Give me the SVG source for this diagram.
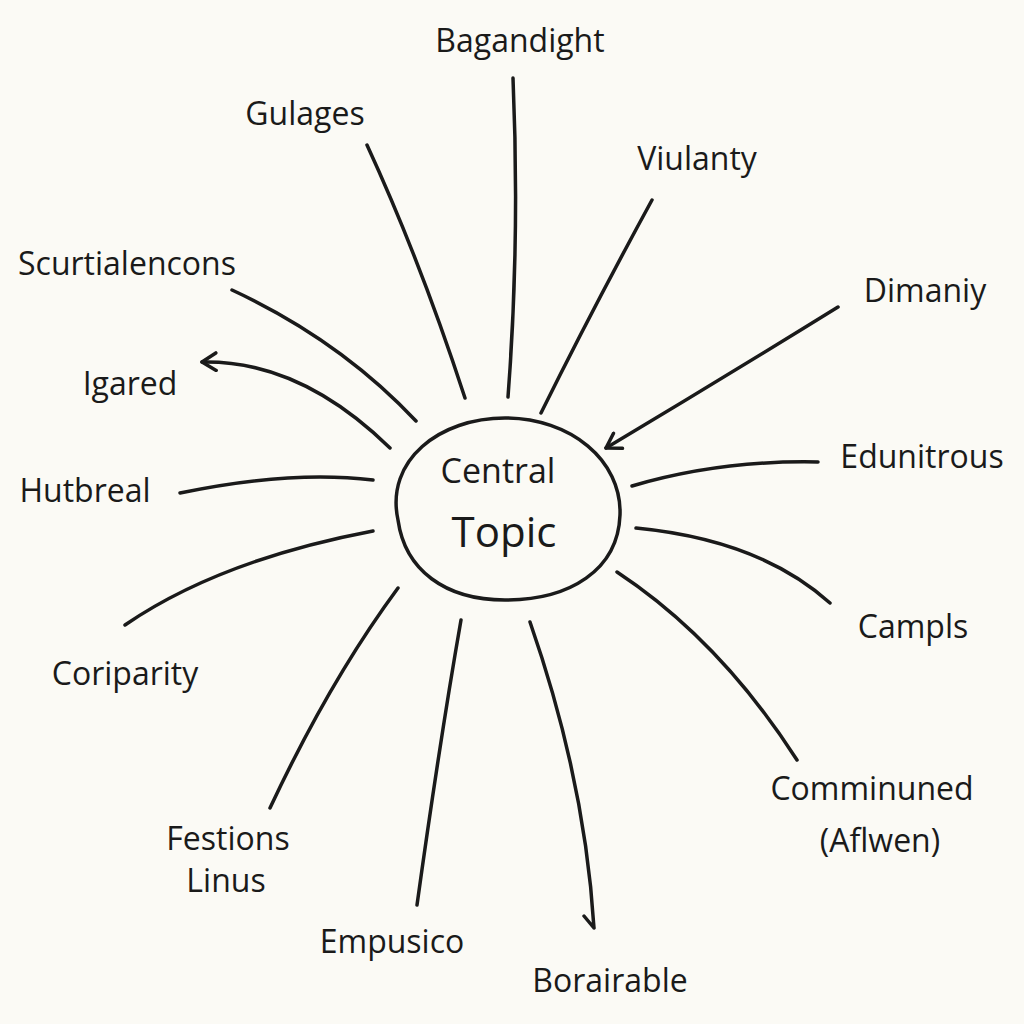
<svg xmlns="http://www.w3.org/2000/svg" width="1024" height="1024" viewBox="0 0 1024 1024">
<defs>
<style>
.lbl{font-family:"Open Sans","DejaVu Sans",sans-serif;font-size:32px;fill:#1a1a1a;text-anchor:middle}
.ln{fill:none;stroke:#1a1a1a;stroke-width:3.5;stroke-linecap:round;stroke-linejoin:round}
</style>
<marker id="arr" viewBox="0 0 12 12" refX="10" refY="6" markerWidth="6" markerHeight="6" orient="auto" markerUnits="strokeWidth">
<path d="M2,1 L10,6 L2,11" fill="none" stroke="#1a1a1a" stroke-width="2" stroke-linecap="round" stroke-linejoin="round"/>
</marker>
</defs>
<rect width="1024" height="1024" fill="#fbfaf5"/>
<g id="connectors">
<path class="ln" d="M513,78 Q520,240 508,397"/>
<path class="ln" d="M367,145 Q420,260 465,398"/>
<path class="ln" d="M652,200 Q592,310 541,413"/>
<path class="ln" d="M232,290 Q340,340 416,421"/>
<path class="ln" d="M838,307 Q720,380 606,448" marker-end="url(#arr)"/>
<path class="ln" d="M390,448 Q300,360 202,362" marker-end="url(#arr)"/>
<path class="ln" d="M818,462 Q720,460 632,486"/>
<path class="ln" d="M180,493 Q290,470 373,480"/>
<path class="ln" d="M830,603 Q760,540 636,528"/>
<path class="ln" d="M125,625 Q220,560 373,531"/>
<path class="ln" d="M797,760 Q720,640 617,572"/>
<path class="ln" d="M270,808 Q330,680 398,588"/>
<path class="ln" d="M417,905 Q440,740 461,620"/>
<path class="ln" d="M530,622 Q585,780 594,928 M584,916 L594,928"/>
</g>
<g id="central">
<path class="ln" d="M398,520 C385,460 440,418 505,418 C570,418 622,460 620,515 C618,570 570,600 505,600 C445,600 405,570 398,520 Z"/>
<text class="lbl" x="498" y="483" style="font-size:34px">Central</text>
<text class="lbl" x="504" y="547" style="font-size:42px">Topic</text>
</g>
<g id="n-bagandight"><text class="lbl" x="520" y="52">Bagandight</text></g>
<g id="n-gulages"><text class="lbl" x="305" y="125">Gulages</text></g>
<g id="n-viulanty"><text class="lbl" x="697" y="170">Viulanty</text></g>
<g id="n-scurtialencons"><text class="lbl" x="127" y="275">Scurtialencons</text></g>
<g id="n-dimaniy"><text class="lbl" x="925" y="302">Dimaniy</text></g>
<g id="n-igared"><text class="lbl" x="130" y="395">Igared</text></g>
<g id="n-edunitrous"><text class="lbl" x="922" y="468">Edunitrous</text></g>
<g id="n-hutbreal"><text class="lbl" x="85" y="502">Hutbreal</text></g>
<g id="n-campls"><text class="lbl" x="913" y="638">Campls</text></g>
<g id="n-coriparity"><text class="lbl" x="125" y="685">Coriparity</text></g>
<g id="n-comminuned"><text class="lbl" x="872" y="800">Comminuned</text><text class="lbl" x="880" y="852">(Aflwen)</text></g>
<g id="n-festions"><text class="lbl" x="228" y="850">Festions</text><text class="lbl" x="226" y="892">Linus</text></g>
<g id="n-empusico"><text class="lbl" x="392" y="953">Empusico</text></g>
<g id="n-borairable"><text class="lbl" x="610" y="992">Borairable</text></g>
</svg>
